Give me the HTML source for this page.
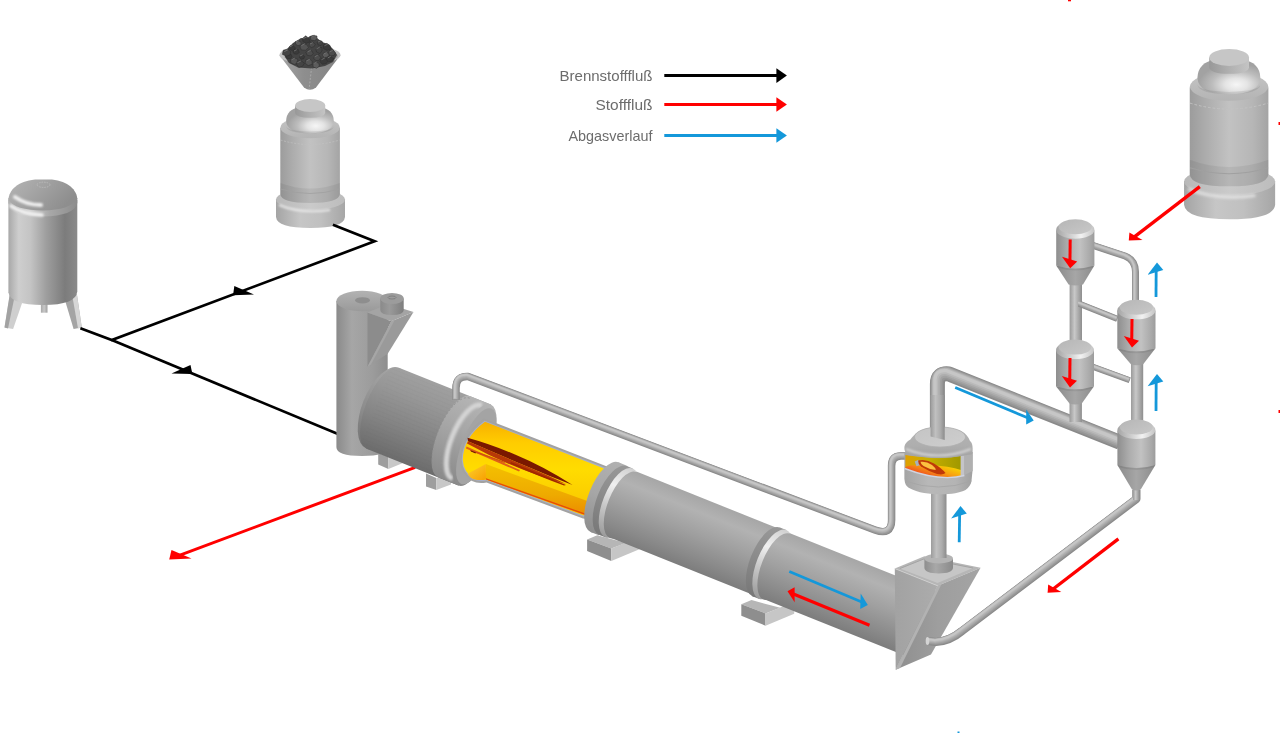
<!DOCTYPE html>
<html><head><meta charset="utf-8"><style>
html,body{margin:0;padding:0;background:#fff;width:1280px;height:733px;overflow:hidden}
svg{display:block}
</style></head><body>
<svg width="1280" height="733" viewBox="0 0 1280 733">
<defs>
<filter id="blur1" x="-20%" y="-50%" width="140%" height="200%"><feGaussianBlur stdDeviation="1.3"/></filter>
<filter id="blur2" x="-20%" y="-50%" width="140%" height="200%"><feGaussianBlur stdDeviation="2.2"/></filter>
<linearGradient id="gV" x1="0" y1="0" x2="1" y2="0">
 <stop offset="0" stop-color="#9c9c9c"/><stop offset="0.25" stop-color="#c4c4c4"/><stop offset="0.55" stop-color="#b2b2b2"/><stop offset="0.85" stop-color="#a0a0a0"/><stop offset="1" stop-color="#aaaaaa"/>
</linearGradient>
<linearGradient id="gTank" x1="0" y1="0" x2="1" y2="0">
 <stop offset="0" stop-color="#a8a8a8"/><stop offset="0.15" stop-color="#cecece"/><stop offset="0.32" stop-color="#c4c4c4"/><stop offset="0.55" stop-color="#9e9e9e"/><stop offset="0.82" stop-color="#7c7c7c"/><stop offset="1" stop-color="#8a8a8a"/>
</linearGradient>
<linearGradient id="gBase" x1="0" y1="0" x2="1" y2="0">
 <stop offset="0" stop-color="#a4a4a4"/><stop offset="0.35" stop-color="#c6c6c6"/><stop offset="0.65" stop-color="#c0c0c0"/><stop offset="1" stop-color="#a6a6a6"/>
</linearGradient>
<radialGradient id="gDome" cx="0.55" cy="0.7" r="0.6">
 <stop offset="0" stop-color="#f4f4f4"/><stop offset="0.5" stop-color="#c8c8c8"/><stop offset="1" stop-color="#a0a0a0"/>
</radialGradient>
<linearGradient id="gTube" x1="0" y1="0" x2="0" y2="1">
 <stop offset="0" stop-color="#a6a6a6"/><stop offset="0.2" stop-color="#b4b4b4"/><stop offset="0.5" stop-color="#a2a2a2"/><stop offset="0.85" stop-color="#888888"/><stop offset="1" stop-color="#7c7c7c"/>
</linearGradient>
<linearGradient id="gHood" x1="0" y1="0" x2="0" y2="1">
 <stop offset="0" stop-color="#a0a0a0"/><stop offset="0.3" stop-color="#989898"/><stop offset="0.7" stop-color="#858585"/><stop offset="1" stop-color="#747474"/>
</linearGradient>
<linearGradient id="gRing" x1="0" y1="0" x2="1" y2="0">
 <stop offset="0" stop-color="#8a8a8a"/><stop offset="0.6" stop-color="#9a9a9a"/><stop offset="0.8" stop-color="#d8d8d8"/><stop offset="1" stop-color="#a8a8a8"/>
</linearGradient>
<linearGradient id="gPipe" x1="0" y1="0" x2="0" y2="1">
 <stop offset="0" stop-color="#a0a0a0"/><stop offset="0.4" stop-color="#c6c6c6"/><stop offset="1" stop-color="#8c8c8c"/>
</linearGradient>
<linearGradient id="gPipeV" x1="0" y1="0" x2="1" y2="0">
 <stop offset="0" stop-color="#9a9a9a"/><stop offset="0.4" stop-color="#c8c8c8"/><stop offset="1" stop-color="#8e8e8e"/>
</linearGradient>
<linearGradient id="gYel" x1="0" y1="0" x2="0" y2="1">
 <stop offset="0" stop-color="#f8b000"/><stop offset="0.22" stop-color="#ffcc00"/><stop offset="0.5" stop-color="#ffdc00"/><stop offset="1" stop-color="#f8c400"/>
</linearGradient>
<linearGradient id="gTankRim" x1="0" y1="0" x2="1" y2="0">
 <stop offset="0" stop-color="#b0b0b0"/><stop offset="0.3" stop-color="#d2d2d2"/><stop offset="0.6" stop-color="#a8a8a8"/><stop offset="1" stop-color="#8c8c8c"/></linearGradient>
<linearGradient id="gTankDome" x1="0" y1="0" x2="1" y2="0.4">
 <stop offset="0" stop-color="#b4b4b4"/><stop offset="0.35" stop-color="#a8a8a8"/><stop offset="0.7" stop-color="#9a9a9a"/><stop offset="1" stop-color="#8e8e8e"/></linearGradient>
<linearGradient id="gDrain" x1="0" y1="0" x2="1" y2="0">
 <stop offset="0" stop-color="#a8a8a8"/><stop offset="0.5" stop-color="#c8c8c8"/><stop offset="1" stop-color="#a0a0a0"/></linearGradient>
<linearGradient id="gSiloBody" x1="0" y1="0" x2="1" y2="0">
 <stop offset="0" stop-color="#9c9c9c"/><stop offset="0.2" stop-color="#acacac"/><stop offset="0.5" stop-color="#c2c2c2"/><stop offset="0.8" stop-color="#b6b6b6"/><stop offset="1" stop-color="#a4a4a4"/></linearGradient>
<linearGradient id="gSiloTop" x1="0" y1="0" x2="0" y2="1">
 <stop offset="0" stop-color="#c4c4c4"/><stop offset="1" stop-color="#b4b4b4"/></linearGradient>
<radialGradient id="gShoulder2" cx="0.62" cy="0.72" r="0.6" fx="0.62" fy="0.72">
 <stop offset="0" stop-color="#f6f6f6"/><stop offset="0.3" stop-color="#e4e4e4"/><stop offset="0.65" stop-color="#bcbcbc"/><stop offset="1" stop-color="#a2a2a2"/></radialGradient>
<linearGradient id="gCapSide" x1="0" y1="0" x2="1" y2="0">
 <stop offset="0" stop-color="#989898"/><stop offset="0.5" stop-color="#b0b0b0"/><stop offset="1" stop-color="#c4c4c4"/></linearGradient>
<linearGradient id="gBaseTop" x1="0" y1="0" x2="1" y2="0">
 <stop offset="0" stop-color="#b8b8b8"/><stop offset="0.5" stop-color="#cacaca"/><stop offset="1" stop-color="#bcbcbc"/></linearGradient>
<linearGradient id="gFunnel" x1="0" y1="0" x2="1" y2="0">
 <stop offset="0" stop-color="#a4a4a4"/><stop offset="0.4" stop-color="#8e8e8e"/><stop offset="1" stop-color="#848484"/></linearGradient>
<linearGradient id="gBurnTop" x1="0" y1="0" x2="0" y2="1">
 <stop offset="0" stop-color="#b2b2b2"/><stop offset="1" stop-color="#9a9a9a"/></linearGradient>
<linearGradient id="gSmallCyl" x1="0" y1="0" x2="1" y2="0">
 <stop offset="0" stop-color="#8a8a8a"/><stop offset="0.4" stop-color="#9a9a9a"/><stop offset="1" stop-color="#7e7e7e"/></linearGradient>
<linearGradient id="gHoodU" gradientUnits="userSpaceOnUse" x1="0" y1="-43.6" x2="0" y2="43.6">
 <stop offset="0" stop-color="#a0a0a0"/><stop offset="0.25" stop-color="#979797"/><stop offset="0.6" stop-color="#858585"/><stop offset="1" stop-color="#6c6c6c"/></linearGradient>
<linearGradient id="gHoodL" gradientUnits="userSpaceOnUse" x1="-25" y1="0" x2="0" y2="0">
 <stop offset="0" stop-color="#b0b0b0"/><stop offset="1" stop-color="#909090"/></linearGradient>
<linearGradient id="gShoulder" gradientUnits="userSpaceOnUse" x1="0" y1="-43.6" x2="0" y2="43.6">
 <stop offset="0" stop-color="#b4b4b4"/><stop offset="0.4" stop-color="#a6a6a6"/><stop offset="1" stop-color="#8a8a8a"/></linearGradient>
<linearGradient id="gTubeU" gradientUnits="userSpaceOnUse" x1="0" y1="-38" x2="0" y2="38">
 <stop offset="0" stop-color="#a4a4a4"/><stop offset="0.22" stop-color="#b2b2b2"/><stop offset="0.5" stop-color="#a0a0a0"/><stop offset="0.8" stop-color="#8a8a8a"/><stop offset="1" stop-color="#7a7a7a"/></linearGradient>
<linearGradient id="gBed" x1="0" y1="0" x2="0" y2="1">
 <stop offset="0" stop-color="#f4c000"/><stop offset="0.6" stop-color="#eeaa00"/><stop offset="1" stop-color="#ec8a00"/></linearGradient>
<linearGradient id="gBurn" x1="0" y1="0" x2="1" y2="0">
 <stop offset="0" stop-color="#8a8a8a"/><stop offset="0.3" stop-color="#a6a6a6"/><stop offset="0.7" stop-color="#9c9c9c"/><stop offset="1" stop-color="#8e8e8e"/></linearGradient><linearGradient id="gRingDark" gradientUnits="userSpaceOnUse" x1="0" y1="-37" x2="0" y2="37">
 <stop offset="0" stop-color="#989898"/><stop offset="0.4" stop-color="#8e8e8e"/><stop offset="1" stop-color="#787878"/></linearGradient>
<linearGradient id="gCollar" gradientUnits="userSpaceOnUse" x1="0" y1="-37" x2="0" y2="37">
 <stop offset="0" stop-color="#b0b0b0"/><stop offset="0.5" stop-color="#a6a6a6"/><stop offset="1" stop-color="#8e8e8e"/></linearGradient>
<linearGradient id="gCres" gradientUnits="userSpaceOnUse" x1="0" y1="-37" x2="0" y2="37">
 <stop offset="0" stop-color="#d0d0d0"/><stop offset="0.3" stop-color="#f0f0f0"/><stop offset="0.6" stop-color="#c8c8c8"/><stop offset="1" stop-color="#9a9a9a"/></linearGradient>
<linearGradient id="gBedEnd" x1="0" y1="0" x2="1" y2="1">
 <stop offset="0" stop-color="#fcd030"/><stop offset="1" stop-color="#f8a000"/></linearGradient>
<linearGradient id="gBoxF" x1="0" y1="0" x2="1" y2="0">
 <stop offset="0" stop-color="#a2a2a2"/><stop offset="1" stop-color="#acacac"/></linearGradient>
<linearGradient id="gBoxR" x1="0" y1="0" x2="1" y2="0">
 <stop offset="0" stop-color="#8e8e8e"/><stop offset="0.5" stop-color="#9e9e9e"/><stop offset="1" stop-color="#a4a4a4"/></linearGradient>
<linearGradient id="gCollarV" x1="0" y1="0" x2="1" y2="0">
 <stop offset="0" stop-color="#8e8e8e"/><stop offset="0.4" stop-color="#a8a8a8"/><stop offset="1" stop-color="#8a8a8a"/></linearGradient>
<linearGradient id="gChLow" x1="0" y1="0" x2="1" y2="0">
 <stop offset="0" stop-color="#a4a4a4"/><stop offset="0.35" stop-color="#b8b8b8"/><stop offset="0.75" stop-color="#b4b4b4"/><stop offset="1" stop-color="#a0a0a0"/></linearGradient>
<linearGradient id="gChTop" x1="0" y1="0" x2="0" y2="1">
 <stop offset="0" stop-color="#b4b4b4"/><stop offset="0.6" stop-color="#aeaeae"/><stop offset="1" stop-color="#a2a2a2"/></linearGradient>
<linearGradient id="gChTopFace" x1="0" y1="0" x2="1" y2="1">
 <stop offset="0" stop-color="#c4c4c4"/><stop offset="1" stop-color="#cecece"/></linearGradient>
<linearGradient id="gWinBack" x1="0" y1="0" x2="1" y2="0">
 <stop offset="0" stop-color="#e0a000"/><stop offset="0.4" stop-color="#c8b000"/><stop offset="1" stop-color="#a09800"/></linearGradient>
<linearGradient id="gWinFloor" x1="0" y1="1" x2="1" y2="0.3">
 <stop offset="0" stop-color="#f02820"/><stop offset="0.3" stop-color="#f05020"/><stop offset="0.65" stop-color="#f8a010"/><stop offset="1" stop-color="#f8d800"/></linearGradient>
<linearGradient id="gPipeV2" x1="0" y1="0" x2="1" y2="0">
 <stop offset="0" stop-color="#9c9c9c"/><stop offset="0.35" stop-color="#c0c0c0"/><stop offset="0.7" stop-color="#acacac"/><stop offset="1" stop-color="#8c8c8c"/></linearGradient>
<linearGradient id="gCyc" x1="0" y1="0" x2="1" y2="0">
 <stop offset="0" stop-color="#8e8e8e"/><stop offset="0.3" stop-color="#acacac"/><stop offset="0.62" stop-color="#c2c2c2"/><stop offset="0.9" stop-color="#a8a8a8"/><stop offset="1" stop-color="#9c9c9c"/></linearGradient>
<linearGradient id="gCham" x1="0" y1="0" x2="1" y2="0">
 <stop offset="0" stop-color="#a4a4a4"/><stop offset="0.35" stop-color="#cccccc"/><stop offset="0.65" stop-color="#f2f2f2"/><stop offset="1" stop-color="#c4c4c4"/></linearGradient>
<linearGradient id="gCycSh" x1="0" y1="0" x2="1" y2="0">
 <stop offset="0" stop-color="#a8a8a8"/><stop offset="0.4" stop-color="#c8c8c8"/><stop offset="1" stop-color="#a4a4a4"/></linearGradient>
<linearGradient id="gCycTop" x1="0" y1="0" x2="1" y2="1">
 <stop offset="0" stop-color="#b6b6b6"/><stop offset="1" stop-color="#c8c8c8"/></linearGradient>
<linearGradient id="gCone" x1="0" y1="0" x2="1" y2="0">
 <stop offset="0" stop-color="#8a8a8a"/><stop offset="0.5" stop-color="#a6a6a6"/><stop offset="1" stop-color="#8c8c8c"/></linearGradient></defs>
<text x="652.5" y="81" text-anchor="end" font-family="Liberation Sans, sans-serif" font-size="15" fill="#6b6b6b" opacity="0.99" textLength="93" lengthAdjust="spacingAndGlyphs">Brennstofffluß</text>
<line x1="664.3" y1="75.6" x2="778" y2="75.6" stroke="#000" stroke-width="3"/>
<polygon points="776.4,68.3 786.9,75.6 776.4,82.89999999999999" fill="#000"/>
<text x="652.5" y="110" text-anchor="end" font-family="Liberation Sans, sans-serif" font-size="15" fill="#6b6b6b" opacity="0.99" textLength="57" lengthAdjust="spacingAndGlyphs">Stofffluß</text>
<line x1="664.3" y1="104.5" x2="778" y2="104.5" stroke="#ff0000" stroke-width="3"/>
<polygon points="776.4,97.2 786.9,104.5 776.4,111.8" fill="#ff0000"/>
<text x="652.5" y="140.5" text-anchor="end" font-family="Liberation Sans, sans-serif" font-size="15" fill="#6b6b6b" opacity="0.99" textLength="84" lengthAdjust="spacingAndGlyphs">Abgasverlauf</text>
<line x1="664.3" y1="135.5" x2="778" y2="135.5" stroke="#1498da" stroke-width="3"/>
<polygon points="776.4,128.2 786.9,135.5 776.4,142.8" fill="#1498da"/>
<polygon points="9.8,293.9 22.1,302.9 13.1,329.1 4.5,327.5" fill="#cfcfcf"/>
<polygon points="9.8,293.9 14.5,297 8,328.6 4.5,327.5" fill="#a2a2a2"/>
<polygon points="65.5,302.1 76.9,294.3 81.8,327.5 73.6,329.1" fill="#a4a4a4"/>
<polygon points="72.5,297 76.9,294.3 81.8,327.5 78,328.6" fill="#d6d6d6"/>
<rect x="40.9" y="303" width="6.6" height="9.7" fill="url(#gDrain)"/>
<path d="M8.4,200 L8.4,292.3 Q10,305 43,305 Q76,305 77.3,291.5 L77.3,200 Z" fill="url(#gTank)"/>
<path d="M8.4,198 L8.4,203 Q12,216 43,216.5 Q74,216 77.3,203 L77.3,198 Z" fill="url(#gTankRim)"/>
<path d="M11,206 Q22,214 42,215" fill="none" stroke="#f0f0f0" stroke-width="3.5" stroke-linecap="round" filter="url(#blur1)"/>
<path d="M8.4,200 C8.6,190 18,181 35,179.4 L52,179.4 C68,181 77,190 77.3,199 Q70,210 43,210.5 Q15,210 8.4,200 Z" fill="url(#gTankDome)"/>
<path d="M15,197 Q26,205 41,205" fill="none" stroke="#eeeeee" stroke-width="4" stroke-linecap="round" filter="url(#blur1)"/>
<ellipse cx="43.5" cy="184.8" rx="6.5" ry="2.6" fill="none" stroke="#bdbdbd" stroke-width="0.8" stroke-dasharray="1.5,1"/>
<path d="M279.3,55 L304,87.5 Q310,92 316,87.5 L340.5,55 Z" fill="url(#gFunnel)"/>
<path d="M312,64 L309,90" stroke="#b4b4b4" stroke-width="0.7" stroke-dasharray="2,1.5"/>
<ellipse cx="310" cy="55" rx="30.6" ry="9" fill="#c4c4c4"/>
<ellipse cx="311" cy="56" rx="27" ry="7.5" fill="#a8a8a8"/>
<path d="M285,57 L287,49 L293,43 L298,40 L301,38 L306,39 L310,36 L314,35 L317,38 L322,42 L328,44 L333,49 L337,55 L333,62 L325,66 L312,68.5 L298,67.5 L289,63 Z" fill="#444444"/>
<polygon points="294.1,50.5 290.8,50.2 288.6,48.3 290.1,45.8 293.2,45.8 295.4,47.7" fill="#3a3a3a" stroke="#2c2c2c" stroke-width="0.5"/>
<path d="M289.8,46.9 L292.7,45.4" stroke="#727272" stroke-width="0.9"/>
<polygon points="295.6,44.2 295.3,41.6 298.0,40.8 300.7,41.7 301.1,44.6 298.0,45.7" fill="#5c5c5c" stroke="#2c2c2c" stroke-width="0.5"/>
<path d="M296.0,42.0 L298.7,40.7" stroke="#727272" stroke-width="0.9"/>
<polygon points="302.4,38.4 305.8,35.8 308.9,38.4 310.2,41.9 306.2,43.3 302.9,41.6" fill="#3a3a3a" stroke="#2c2c2c" stroke-width="0.5"/>
<path d="M303.3,38.6 L306.9,36.8" stroke="#727272" stroke-width="0.9"/>
<polygon points="310.3,36.8 313.5,35.4 317.0,36.0 317.0,39.0 314.5,40.6 310.9,40.1" fill="#5c5c5c" stroke="#2c2c2c" stroke-width="0.5"/>
<path d="M311.6,36.8 L314.8,35.2" stroke="#727272" stroke-width="0.9"/>
<polygon points="320.9,45.7 317.9,44.8 317.3,42.4 319.1,40.4 322.1,41.2 322.7,43.6" fill="#444444" stroke="#2c2c2c" stroke-width="0.5"/>
<path d="M318.0,42.0 L320.7,40.7" stroke="#727272" stroke-width="0.9"/>
<polygon points="327.1,50.4 323.7,48.8 323.1,45.2 326.8,43.4 330.0,45.4 331.0,48.8" fill="#3a3a3a" stroke="#2c2c2c" stroke-width="0.5"/>
<path d="M324.5,45.7 L327.8,44.1" stroke="#727272" stroke-width="0.9"/>
<polygon points="333.7,55.5 329.9,56.1 328.5,53.0 329.8,49.9 333.5,50.7 335.7,53.0" fill="#4c4c4c" stroke="#2c2c2c" stroke-width="0.5"/>
<path d="M329.6,51.8 L332.8,50.3" stroke="#727272" stroke-width="0.9"/>
<polygon points="287.0,58.3 285.2,55.7 287.8,53.8 290.7,54.0 292.1,56.3 290.5,58.8" fill="#3a3a3a" stroke="#2c2c2c" stroke-width="0.5"/>
<path d="M286.8,54.9 L289.7,53.4" stroke="#727272" stroke-width="0.9"/>
<polygon points="295.0,49.4 298.4,49.7 299.3,52.6 296.8,54.3 294.0,53.8 292.8,51.4" fill="#3a3a3a" stroke="#2c2c2c" stroke-width="0.5"/>
<path d="M294.0,51.0 L296.7,49.7" stroke="#727272" stroke-width="0.9"/>
<polygon points="301.3,49.9 299.9,46.5 302.6,44.1 306.4,44.4 308.5,47.5 305.5,50.2" fill="#545454" stroke="#2c2c2c" stroke-width="0.5"/>
<path d="M301.3,45.6 L304.9,43.8" stroke="#727272" stroke-width="0.9"/>
<polygon points="309.0,45.8 309.4,43.0 312.7,42.1 315.3,44.1 314.1,46.6 311.4,47.5" fill="#4c4c4c" stroke="#2c2c2c" stroke-width="0.5"/>
<path d="M310.0,44.0 L312.7,42.7" stroke="#727272" stroke-width="0.9"/>
<polygon points="316.5,52.0 315.9,49.2 318.2,47.2 322.0,47.6 322.0,50.8 320.0,53.6" fill="#444444" stroke="#2c2c2c" stroke-width="0.5"/>
<path d="M316.5,48.8 L319.8,47.1" stroke="#727272" stroke-width="0.9"/>
<polygon points="329.2,55.1 327.5,57.3 324.2,57.5 322.1,54.9 324.3,52.4 327.7,52.6" fill="#5c5c5c" stroke="#2c2c2c" stroke-width="0.5"/>
<path d="M323.9,53.9 L326.7,52.5" stroke="#727272" stroke-width="0.9"/>
<polygon points="293.8,57.8 297.6,59.0 298.0,62.7 294.3,64.5 290.8,62.8 290.7,59.6" fill="#545454" stroke="#2c2c2c" stroke-width="0.5"/>
<path d="M291.5,59.8 L294.8,58.1" stroke="#727272" stroke-width="0.9"/>
<polygon points="300.3,55.4 302.8,54.9 304.7,56.5 303.8,58.7 301.1,59.3 299.5,57.4" fill="#3a3a3a" stroke="#2c2c2c" stroke-width="0.5"/>
<path d="M300.0,56.0 L302.7,54.7" stroke="#727272" stroke-width="0.9"/>
<polygon points="305.8,52.2 308.9,49.9 312.1,51.1 313.2,53.6 311.0,55.9 307.3,55.4" fill="#4c4c4c" stroke="#2c2c2c" stroke-width="0.5"/>
<path d="M307.6,51.8 L310.8,50.2" stroke="#727272" stroke-width="0.9"/>
<polygon points="313.8,58.4 314.6,55.6 318.6,54.5 320.7,57.5 319.2,60.3 315.9,60.6" fill="#4c4c4c" stroke="#2c2c2c" stroke-width="0.5"/>
<path d="M314.6,56.8 L317.8,55.2" stroke="#727272" stroke-width="0.9"/>
<polygon points="319.8,61.5 321.6,58.3 325.3,58.3 328.5,60.5 326.3,63.5 322.4,64.3" fill="#3a3a3a" stroke="#2c2c2c" stroke-width="0.5"/>
<path d="M321.5,59.7 L324.8,58.0" stroke="#727272" stroke-width="0.9"/>
<polygon points="298.8,67.4 296.7,64.6 297.0,61.2 301.2,60.8 304.4,63.2 302.5,66.3" fill="#444444" stroke="#2c2c2c" stroke-width="0.5"/>
<path d="M297.4,62.7 L300.9,61.0" stroke="#727272" stroke-width="0.9"/>
<polygon points="309.6,59.1 312.1,61.1 312.1,64.3 308.2,65.6 305.1,63.2 305.9,59.8" fill="#545454" stroke="#2c2c2c" stroke-width="0.5"/>
<path d="M306.6,60.8 L309.8,59.2" stroke="#727272" stroke-width="0.9"/>
<polygon points="316.6,68.3 313.1,67.0 313.0,64.0 315.5,62.3 318.8,63.1 319.3,66.1" fill="#5c5c5c" stroke="#2c2c2c" stroke-width="0.5"/>
<path d="M313.5,63.7 L316.8,62.0" stroke="#727272" stroke-width="0.9"/>
<polygon points="282.4,54.4 283.2,50.2 287.9,48.9 290.8,51.9 289.8,55.1 286.3,56.1" fill="#444444" stroke="#2c2c2c" stroke-width="0.5"/>
<path d="M284.3,51.6 L287.9,49.8" stroke="#727272" stroke-width="0.9"/>
<polygon points="326.0,59.4 327.9,56.6 331.1,56.9 333.9,58.6 331.9,61.2 328.6,61.8" fill="#3a3a3a" stroke="#2c2c2c" stroke-width="0.5"/>
<path d="M327.8,57.9 L330.7,56.4" stroke="#727272" stroke-width="0.9"/>
<path d="M276,199 L276,217 Q277,228 310.5,228 Q344,228 345,217 L345,199 Z" fill="url(#gBase)"/>
<ellipse cx="310.5" cy="199.5" rx="34.5" ry="10.5" fill="url(#gBaseTop)"/>
<path d="M279,205 Q300,214 330,210" fill="none" stroke="#e8e8e8" stroke-width="2" filter="url(#blur1)"/>
<path d="M280.3,128 L280.3,194 Q281,203 310,203 Q339,203 339.9,194 L339.9,128 Z" fill="url(#gSiloBody)"/>
<path d="M280.3,183 L280.3,194 Q281,203 310,203 Q339,203 339.9,194 L339.9,183 Q310,194 280.3,183 Z" fill="#000" fill-opacity="0.06"/>
<path d="M280.5,140 Q310,149 339.7,140" fill="none" stroke="#c2c2c2" stroke-width="0.7" stroke-dasharray="2,1.5"/>
<path d="M280.5,189 Q310,198 339.7,189" fill="none" stroke="#a0a0a0" stroke-width="0.8"/>
<ellipse cx="310.1" cy="127.5" rx="29.7" ry="10.8" fill="url(#gSiloTop)"/>
<path d="M286.1,121 Q286.5,109 300,107 L320,107 Q333.5,109 333.8,121 Q333,133.3 310,133.3 Q287,133.3 286.1,121 Z" fill="url(#gShoulder2)"/>
<path d="M286.1,126 Q287,133.3 310,133.3 Q333,133.3 333.8,126 Q333,131 310,131.5 Q287,131 286.1,126 Z" fill="#000" fill-opacity="0.08"/>
<path d="M295.1,105.5 L295.1,113 Q296,117.8 310.2,117.8 Q324.3,117.8 325.2,113 L325.2,105.5 Z" fill="url(#gCapSide)"/>
<ellipse cx="310.15" cy="105.5" rx="15.05" ry="6.4" fill="#c6c6c6"/>
<g transform="translate(819.74,-81.70) scale(1.32)">
<path d="M276,199 L276,217 Q277,228 310.5,228 Q344,228 345,217 L345,199 Z" fill="url(#gBase)"/>
<ellipse cx="310.5" cy="199.5" rx="34.5" ry="10.5" fill="url(#gBaseTop)"/>
<path d="M279,205 Q300,214 330,210" fill="none" stroke="#e8e8e8" stroke-width="2" filter="url(#blur1)"/>
<path d="M280.3,128 L280.3,194 Q281,203 310,203 Q339,203 339.9,194 L339.9,128 Z" fill="url(#gSiloBody)"/>
<path d="M280.3,183 L280.3,194 Q281,203 310,203 Q339,203 339.9,194 L339.9,183 Q310,194 280.3,183 Z" fill="#000" fill-opacity="0.06"/>
<path d="M280.5,140 Q310,149 339.7,140" fill="none" stroke="#c2c2c2" stroke-width="0.7" stroke-dasharray="2,1.5"/>
<path d="M280.5,189 Q310,198 339.7,189" fill="none" stroke="#a0a0a0" stroke-width="0.8"/>
<ellipse cx="310.1" cy="127.5" rx="29.7" ry="10.8" fill="url(#gSiloTop)"/>
<path d="M286.1,121 Q286.5,109 300,107 L320,107 Q333.5,109 333.8,121 Q333,133.3 310,133.3 Q287,133.3 286.1,121 Z" fill="url(#gShoulder2)"/>
<path d="M286.1,126 Q287,133.3 310,133.3 Q333,133.3 333.8,126 Q333,131 310,131.5 Q287,131 286.1,126 Z" fill="#000" fill-opacity="0.08"/>
<path d="M295.1,105.5 L295.1,113 Q296,117.8 310.2,117.8 Q324.3,117.8 325.2,113 L325.2,105.5 Z" fill="url(#gCapSide)"/>
<ellipse cx="310.15" cy="105.5" rx="15.05" ry="6.4" fill="#c6c6c6"/>
</g>
<polyline points="332.9,224.7 374.6,241.3 111.8,340.1 80.4,328.2" fill="none" stroke="#000" stroke-width="2.7" stroke-linejoin="miter"/>
<line x1="111.8" y1="340.1" x2="338" y2="434" stroke="#000" stroke-width="2.7"/>
<polygon points="234.3,286 254,294.4 233.1,295.2" fill="#000"/>
<polygon points="171.5,373.6 190.5,365 192.4,374" fill="#000"/>
<path d="M336.4,301 L336.4,447 Q336.4,456 362,456 Q387.7,456 387.7,447 L387.7,301 Z" fill="url(#gBurn)"/>
<ellipse cx="362" cy="301" rx="25.6" ry="10.3" fill="url(#gBurnTop)"/>
<ellipse cx="362.5" cy="300.3" rx="7.4" ry="3.1" fill="#8e8e8e"/>
<polygon points="367.5,312.6 391.4,321.2 367.5,366.7" fill="#8c8c8c"/>
<polygon points="391.4,321.2 413.5,312 387.7,353.8 367.5,366.7" fill="#9a9a9a"/>
<polygon points="391.4,321.2 395,319.5 371,364.5 367.5,366.7" fill="#a6a6a6"/>
<polygon points="367.5,312.6 388,304 413.5,312 391.4,321.2" fill="#a4a4a4"/>
<path d="M380.3,298.5 L380.3,310 Q380.3,315 392,315 Q403.7,315 403.7,310 L403.7,298.5 Z" fill="url(#gSmallCyl)"/>
<ellipse cx="392" cy="298.5" rx="11.7" ry="5.5" fill="#9c9c9c"/>
<ellipse cx="392" cy="297.5" rx="4" ry="1.5" fill="none" stroke="#7a7a7a" stroke-width="0.8"/>
<polygon points="378.2,453.1 388.4,456.8 388.4,469 378.2,464.5" fill="#9e9e9e"/>
<polygon points="388.4,456.8 403,456 403,463 388.4,469" fill="#c8c8c8"/>
<polygon points="426,473.6 436.3,478 436.3,489.9 426,486.6" fill="#9e9e9e"/>
<polygon points="436.3,478 451,476 451,484.6 436.3,489.9" fill="#c8c8c8"/>
<polygon points="587.1,539.4 597.3,535.3 626.0,543.0 611.3,548.6" fill="#b6b6b6"/>
<polygon points="587.1,539.4 611.3,548.6 611.3,560.9 587.1,551.0" fill="#8e8e8e"/>
<polygon points="611.3,548.6 640.0,537.0 640.0,549.0 611.3,560.9" fill="#c6c6c6"/>
<polygon points="741.3,604.2 751.5,600.1 780.2,607.8 765.5,613.4" fill="#b6b6b6"/>
<polygon points="741.3,604.2 765.5,613.4 765.5,625.7 741.3,615.8" fill="#8e8e8e"/>
<polygon points="765.5,613.4 794.2,601.8 794.2,613.8 765.5,625.7" fill="#c6c6c6"/>
<line x1="415.2" y1="467.3" x2="175.3" y2="556.9" stroke="#ff0000" stroke-width="3"/>
<polygon points="169.2,559.5 171.5,550.1 191.5,558.5" fill="#ff0000"/>
<g transform="translate(385.5,409.3) rotate(21.84)">
<ellipse cx="-3" cy="0" rx="20.5" ry="43.6" fill="url(#gHoodU)"/>
<rect x="-3" y="-43.6" width="99" height="87.2" fill="url(#gHoodU)"/>
<path d="M-3,-43.6 A20.5,43.6 0 0 0 -3,43.6 A17,43.6 0 0 1 -3,-43.6 Z" fill="#fff" fill-opacity="0.06"/>
<line x1="-10" y1="-40" x2="74" y2="-40" stroke="#000" stroke-opacity="0.012" stroke-width="1.2"/>
<line x1="-10" y1="-36" x2="74" y2="-36" stroke="#000" stroke-opacity="0.012" stroke-width="1.2"/>
<line x1="-10" y1="-32" x2="74" y2="-32" stroke="#000" stroke-opacity="0.012" stroke-width="1.2"/>
<line x1="-10" y1="-28" x2="74" y2="-28" stroke="#000" stroke-opacity="0.012" stroke-width="1.2"/>
<line x1="-10" y1="-24" x2="74" y2="-24" stroke="#000" stroke-opacity="0.012" stroke-width="1.2"/>
<line x1="-10" y1="-20" x2="74" y2="-20" stroke="#000" stroke-opacity="0.012" stroke-width="1.2"/>
<line x1="-10" y1="-16" x2="74" y2="-16" stroke="#000" stroke-opacity="0.012" stroke-width="1.2"/>
<line x1="-10" y1="-12" x2="74" y2="-12" stroke="#000" stroke-opacity="0.012" stroke-width="1.2"/>
<line x1="-10" y1="-8" x2="74" y2="-8" stroke="#000" stroke-opacity="0.012" stroke-width="1.2"/>
<line x1="-10" y1="-4" x2="74" y2="-4" stroke="#000" stroke-opacity="0.012" stroke-width="1.2"/>
<line x1="-10" y1="0" x2="74" y2="0" stroke="#000" stroke-opacity="0.012" stroke-width="1.2"/>
<line x1="-10" y1="4" x2="74" y2="4" stroke="#000" stroke-opacity="0.012" stroke-width="1.2"/>
<line x1="-10" y1="8" x2="74" y2="8" stroke="#000" stroke-opacity="0.012" stroke-width="1.2"/>
<line x1="-10" y1="12" x2="74" y2="12" stroke="#000" stroke-opacity="0.012" stroke-width="1.2"/>
<line x1="-10" y1="16" x2="74" y2="16" stroke="#000" stroke-opacity="0.012" stroke-width="1.2"/>
<line x1="-10" y1="20" x2="74" y2="20" stroke="#000" stroke-opacity="0.012" stroke-width="1.2"/>
<line x1="-10" y1="24" x2="74" y2="24" stroke="#000" stroke-opacity="0.012" stroke-width="1.2"/>
<line x1="-10" y1="28" x2="74" y2="28" stroke="#000" stroke-opacity="0.012" stroke-width="1.2"/>
<line x1="-10" y1="32" x2="74" y2="32" stroke="#000" stroke-opacity="0.012" stroke-width="1.2"/>
<line x1="-10" y1="36" x2="74" y2="36" stroke="#000" stroke-opacity="0.012" stroke-width="1.2"/>
<line x1="-10" y1="40" x2="74" y2="40" stroke="#000" stroke-opacity="0.012" stroke-width="1.2"/>
<path d="M74,-43.6 A17,43.6 0 0 0 74,43.6 L96,43.6 L96,-43.6 Z" fill="url(#gShoulder)"/>
<path d="M74,-41.6 A17,41.6 0 0 0 74,41.6" fill="none" stroke="#8c8c8c" stroke-width="0.7" stroke-dasharray="2,2"/>
<path d="M88,-39.6 A16,39.6 0 0 0 88,39.6" fill="none" stroke="#d4d4d4" stroke-width="5" filter="url(#blur1)"/>
<ellipse cx="96" cy="0" rx="16" ry="43.6" fill="url(#gShoulder)"/>
<ellipse cx="98" cy="0.5" rx="14.5" ry="40.6" fill="#a4a4a4"/>
</g>
<path d="M483.6,418.2 L607,466.5 L596,520 L583,518.5 L486.5,482.5 Q478,484 472,481 Q461,474 459.8,460 Q460,436 483.6,418.2 Z" fill="#a2a2a2"/>
<path d="M484.6,420.8 L606,468 L596,519 L583,516.5 L486.5,480.5 Q478,482 472.8,479 Q462.5,472.5 461.8,460 Q462,437.5 484.6,420.8 Z" fill="#a8b0c8"/>
<path d="M485,421.8 L604,468.5 L592,516 L583,515.3 L486,479.4 Q478,481 473.5,478 Q463.5,472 462.8,460 Q463,438 485,421.8 Z" fill="url(#gYel)"/>
<path d="M485.8,464.1 L590,502 L588,515.8 L486,479.4 Z" fill="url(#gBed)"/>
<path d="M486,478.2 L588,514.5 L588,516 L486,479.6 Z" fill="#e84a08"/>
<path d="M485.8,464.1 L467.6,473.7 Q470,478.5 476,479.8 Q482,480.5 486,479.4 Z" fill="url(#gBedEnd)"/>
<path d="M467.5,437.8 Q490,444 515,454.5 Q545,467 572.6,485.1 Q550,476.5 530,467.8 Q500,455 468,441.2 Z" fill="#7a1800"/>
<path d="M468,441.2 Q500,455 530,467.8 Q548,475.5 566,484 Q545,478.5 524,470 Q495,459 467,443.5 Z" fill="#b83808"/>
<path d="M466.5,446.5 Q495,459 520,470 L519,471.5 Q494,461 466,448.5 Z" fill="#e06018"/>
<path d="M470,449.5 Q490,456 505,462 L504.5,463 Q489,457 470,451 Z" fill="#d05010"/>
<path d="M511,462 Q540,474 566,485 L564,485.5 Q538,476 510,463.5 Z" fill="#a02800"/>
<path d="M471,450.5 L476,452.5 L475.5,453.5 L471,451.5 Z" fill="#701800"/>
<g transform="translate(385.5,409.3) rotate(21.84)">
<ellipse cx="236" cy="0" rx="16" ry="37.5" fill="url(#gCollar)"/>
<rect x="236" y="-37.5" width="9" height="75.0" fill="url(#gCollar)"/>
<ellipse cx="245" cy="0" rx="16" ry="37.0" fill="url(#gRingDark)"/>
<rect x="245" y="-37.0" width="6.5" height="74.0" fill="url(#gRingDark)"/>
<ellipse cx="251.5" cy="0" rx="16" ry="37.0" fill="url(#gCres)"/>
<ellipse cx="256" cy="0.5" rx="15" ry="35.5" fill="url(#gTubeU)"/>
<rect x="256" y="-35.5" width="160" height="71.0" fill="url(#gTubeU)"/>
<ellipse cx="410" cy="0" rx="16" ry="37.0" fill="url(#gRingDark)"/>
<rect x="410" y="-37.0" width="7" height="74.0" fill="url(#gRingDark)"/>
<ellipse cx="417" cy="0" rx="16" ry="37.0" fill="url(#gCres)"/>
<ellipse cx="421.5" cy="0.5" rx="15" ry="35.5" fill="url(#gTubeU)"/>
<rect x="421.5" y="-35.5" width="160" height="71.0" fill="url(#gTubeU)"/>
</g>
<path d="M456,400 L456,388 Q456,376 468,376.5 L875,530 Q891.6,536 891.6,520 L891.6,466 Q891.6,456 901,456 L910,456" fill="none" stroke="#8a8a8a" stroke-width="7.50" stroke-linecap="butt" stroke-linejoin="round" transform="translate(-0.00,-0.00)"/>
<path d="M456,400 L456,388 Q456,376 468,376.5 L875,530 Q891.6,536 891.6,520 L891.6,466 Q891.6,456 901,456 L910,456" fill="none" stroke="#969696" stroke-width="6.33" stroke-linecap="butt" stroke-linejoin="round" transform="translate(-0.24,-0.33)"/>
<path d="M456,400 L456,388 Q456,376 468,376.5 L875,530 Q891.6,536 891.6,520 L891.6,466 Q891.6,456 901,456 L910,456" fill="none" stroke="#a2a2a2" stroke-width="5.16" stroke-linecap="butt" stroke-linejoin="round" transform="translate(-0.48,-0.66)"/>
<path d="M456,400 L456,388 Q456,376 468,376.5 L875,530 Q891.6,536 891.6,520 L891.6,466 Q891.6,456 901,456 L910,456" fill="none" stroke="#aeaeae" stroke-width="3.99" stroke-linecap="butt" stroke-linejoin="round" transform="translate(-0.72,-0.99)"/>
<path d="M456,400 L456,388 Q456,376 468,376.5 L875,530 Q891.6,536 891.6,520 L891.6,466 Q891.6,456 901,456 L910,456" fill="none" stroke="#bababa" stroke-width="2.82" stroke-linecap="butt" stroke-linejoin="round" transform="translate(-0.96,-1.32)"/>
<path d="M456,400 L456,388 Q456,376 468,376.5 L875,530 Q891.6,536 891.6,520 L891.6,466 Q891.6,456 901,456 L910,456" fill="none" stroke="#c6c6c6" stroke-width="1.65" stroke-linecap="butt" stroke-linejoin="round" transform="translate(-1.20,-1.65)"/>
<path d="M937.4,440 L937.4,384 Q937.4,372.5 949,374 L1120,442.4" fill="none" stroke="#8a8a8a" stroke-width="15.00" stroke-linecap="butt" stroke-linejoin="round" transform="translate(-0.00,-0.00)"/>
<path d="M937.4,440 L937.4,384 Q937.4,372.5 949,374 L1120,442.4" fill="none" stroke="#969696" stroke-width="12.66" stroke-linecap="butt" stroke-linejoin="round" transform="translate(-0.48,-0.66)"/>
<path d="M937.4,440 L937.4,384 Q937.4,372.5 949,374 L1120,442.4" fill="none" stroke="#a2a2a2" stroke-width="10.32" stroke-linecap="butt" stroke-linejoin="round" transform="translate(-0.96,-1.32)"/>
<path d="M937.4,440 L937.4,384 Q937.4,372.5 949,374 L1120,442.4" fill="none" stroke="#aeaeae" stroke-width="7.98" stroke-linecap="butt" stroke-linejoin="round" transform="translate(-1.44,-1.98)"/>
<path d="M937.4,440 L937.4,384 Q937.4,372.5 949,374 L1120,442.4" fill="none" stroke="#bababa" stroke-width="5.64" stroke-linecap="butt" stroke-linejoin="round" transform="translate(-1.92,-2.64)"/>
<path d="M937.4,440 L937.4,384 Q937.4,372.5 949,374 L1120,442.4" fill="none" stroke="#c6c6c6" stroke-width="3.30" stroke-linecap="butt" stroke-linejoin="round" transform="translate(-2.40,-3.30)"/>
<polygon points="894.8,568.6 924.4,556.2 980.6,567.7 937.7,585.8" fill="#b6b6b6"/>
<polygon points="900,568.5 925,558.5 973,568 937.5,583" fill="#c6c6c6"/>
<polyline points="900,568.5 925,558.5 973,568" fill="none" stroke="#a4a4a4" stroke-width="1"/>
<polygon points="894.8,568.6 937.7,585.8 895.7,669.8" fill="url(#gBoxF)"/>
<polygon points="937.7,585.8 980.6,567.7 931,654.5 895.7,669.8" fill="url(#gBoxR)"/>
<polygon points="937.7,585.8 941.5,584.2 900,668 895.7,669.8" fill="#b2b2b2"/>
<line x1="894.8" y1="568.6" x2="937.7" y2="585.8" stroke="#d0d0d0" stroke-width="0.8"/>
<path d="M924.4,559 L924.4,568 Q925,573.4 938.7,573.4 Q952.4,573.4 953,568 L953,559 Z" fill="url(#gCollarV)"/>
<ellipse cx="938.7" cy="558.5" rx="14.3" ry="5" fill="#b4b4b4"/>
<path d="M1136.4,490 L1136.4,499 L962,631 Q950,641 936,642 L927.5,641" fill="none" stroke="#8a8a8a" stroke-width="8.20" stroke-linecap="butt" stroke-linejoin="round" transform="translate(-0.00,-0.00)"/>
<path d="M1136.4,490 L1136.4,499 L962,631 Q950,641 936,642 L927.5,641" fill="none" stroke="#969696" stroke-width="6.92" stroke-linecap="butt" stroke-linejoin="round" transform="translate(-0.26,-0.36)"/>
<path d="M1136.4,490 L1136.4,499 L962,631 Q950,641 936,642 L927.5,641" fill="none" stroke="#a2a2a2" stroke-width="5.64" stroke-linecap="butt" stroke-linejoin="round" transform="translate(-0.52,-0.72)"/>
<path d="M1136.4,490 L1136.4,499 L962,631 Q950,641 936,642 L927.5,641" fill="none" stroke="#aeaeae" stroke-width="4.36" stroke-linecap="butt" stroke-linejoin="round" transform="translate(-0.79,-1.08)"/>
<path d="M1136.4,490 L1136.4,499 L962,631 Q950,641 936,642 L927.5,641" fill="none" stroke="#bababa" stroke-width="3.08" stroke-linecap="butt" stroke-linejoin="round" transform="translate(-1.05,-1.44)"/>
<path d="M1136.4,490 L1136.4,499 L962,631 Q950,641 936,642 L927.5,641" fill="none" stroke="#c6c6c6" stroke-width="1.80" stroke-linecap="butt" stroke-linejoin="round" transform="translate(-1.31,-1.80)"/>
<ellipse cx="927.5" cy="641" rx="1.8" ry="4" fill="#d4d4d4"/>
<rect x="931" y="488" width="15.5" height="70" fill="url(#gPipeV2)"/>
<path d="M904.4,452 L904.4,479 C905,484 906,486 908.7,487.7 C918,493 930,494.2 940,494.2 C952,494.2 960,492.5 965.5,489.9 C969,487.5 971,484.5 971.5,481 L972.6,470 L972.6,452 Z" fill="url(#gChLow)"/>
<path d="M905,481 Q938.6,493 971.5,481" fill="none" stroke="#a4a4a4" stroke-width="0.8"/>
<path d="M905.4,455 Q940,460 961,456 L961,475.7 Q940,481 905.4,469 Z" fill="url(#gWinBack)"/>
<path d="M905.4,467 Q912,464 928,465 Q950,466 961,470 L961,475.7 Q940,481 905.4,469 Z" fill="url(#gWinFloor)"/>
<path d="M912,474 Q925,466 945,467 Q958,469 961,472 L961,475.7 Q940,481 912,474 Z" fill="#000" fill-opacity="0"/>
<path d="M914.7,461.5 L918.5,459.8 L920.5,465 L916.5,466.3 Z" fill="#a8b0bc"/>
<path d="M918,460.5 Q926,458.5 934,463.5 Q942,468.5 945.5,473 Q943,475.3 937,474 Q928,471 921,466.5 Q918,464 918,460.5 Z" fill="#c03808"/>
<path d="M920.5,461.8 Q926.5,461 932,465 Q936.5,468.5 935.5,470 Q929.5,469.5 923.5,466 Q920.5,464 920.5,461.8 Z" fill="#fcc040"/>
<path d="M960.6,456 L964.4,455.5 L964.4,475 L960.6,476 Z" fill="#c4c4c8"/>
<path d="M964.4,455.5 L972.6,454 L972.6,471 L964.4,475 Z" fill="#b0b0b0"/>
<path d="M904.6,468.5 Q940,482 964.4,475.5" fill="none" stroke="#d0d4e0" stroke-width="1.4"/>
<path d="M904.4,448 C904.4,444 907,441.5 910.4,439.6 C915,433 921,429.5 927.3,428.2 Q943,425 961.1,430.9 C966,433.5 968.5,437 969.9,440.7 C972,442.5 972.6,445 972.6,448 L972.6,454 Q966,454.5 961,456 Q940,460.5 907.6,454.9 Q904.4,452 904.4,448 Z" fill="url(#gChTop)"/>
<ellipse cx="940" cy="437" rx="25.5" ry="10" fill="url(#gChTopFace)" stroke="#b0b0b0" stroke-width="0.8"/>
<path d="M906,449 Q938,462 971,449" fill="none" stroke="#d6d6d6" stroke-width="2.2" filter="url(#blur1)"/>
<path d="M930.6,395 L930.6,436.5 L944.7,440 L944.7,395 Z" fill="url(#gPipeV2)"/>
<rect x="1069.6" y="280" width="12.4" height="65" fill="url(#gPipeV)"/>
<rect x="1069.5" y="400" width="12.4" height="22" fill="url(#gPipeV)"/>
<rect x="1131" y="360" width="12.2" height="66" fill="url(#gPipeV)"/>
<rect x="1133" y="488" width="6.5" height="12" fill="url(#gPipeV)"/>
<path d="M1079,303.6 L1117.3,318.9" fill="none" stroke="#8a8a8a" stroke-width="6.00" stroke-linecap="butt" stroke-linejoin="round" transform="translate(-0.00,-0.00)"/>
<path d="M1079,303.6 L1117.3,318.9" fill="none" stroke="#969696" stroke-width="5.06" stroke-linecap="butt" stroke-linejoin="round" transform="translate(-0.19,-0.26)"/>
<path d="M1079,303.6 L1117.3,318.9" fill="none" stroke="#a2a2a2" stroke-width="4.13" stroke-linecap="butt" stroke-linejoin="round" transform="translate(-0.38,-0.53)"/>
<path d="M1079,303.6 L1117.3,318.9" fill="none" stroke="#aeaeae" stroke-width="3.19" stroke-linecap="butt" stroke-linejoin="round" transform="translate(-0.58,-0.79)"/>
<path d="M1079,303.6 L1117.3,318.9" fill="none" stroke="#bababa" stroke-width="2.26" stroke-linecap="butt" stroke-linejoin="round" transform="translate(-0.77,-1.06)"/>
<path d="M1079,303.6 L1117.3,318.9" fill="none" stroke="#c6c6c6" stroke-width="1.32" stroke-linecap="butt" stroke-linejoin="round" transform="translate(-0.96,-1.32)"/>
<path d="M1089,365.4 L1129.7,380.2" fill="none" stroke="#8a8a8a" stroke-width="6.00" stroke-linecap="butt" stroke-linejoin="round" transform="translate(-0.00,-0.00)"/>
<path d="M1089,365.4 L1129.7,380.2" fill="none" stroke="#969696" stroke-width="5.06" stroke-linecap="butt" stroke-linejoin="round" transform="translate(-0.19,-0.26)"/>
<path d="M1089,365.4 L1129.7,380.2" fill="none" stroke="#a2a2a2" stroke-width="4.13" stroke-linecap="butt" stroke-linejoin="round" transform="translate(-0.38,-0.53)"/>
<path d="M1089,365.4 L1129.7,380.2" fill="none" stroke="#aeaeae" stroke-width="3.19" stroke-linecap="butt" stroke-linejoin="round" transform="translate(-0.58,-0.79)"/>
<path d="M1089,365.4 L1129.7,380.2" fill="none" stroke="#bababa" stroke-width="2.26" stroke-linecap="butt" stroke-linejoin="round" transform="translate(-0.77,-1.06)"/>
<path d="M1089,365.4 L1129.7,380.2" fill="none" stroke="#c6c6c6" stroke-width="1.32" stroke-linecap="butt" stroke-linejoin="round" transform="translate(-0.96,-1.32)"/>
<path d="M1088.7,244 L1125,256 Q1135.5,260 1135.5,272 L1135.5,304" fill="none" stroke="#8a8a8a" stroke-width="7.00" stroke-linecap="butt" stroke-linejoin="round" transform="translate(-0.00,-0.00)"/>
<path d="M1088.7,244 L1125,256 Q1135.5,260 1135.5,272 L1135.5,304" fill="none" stroke="#969696" stroke-width="5.91" stroke-linecap="butt" stroke-linejoin="round" transform="translate(-0.22,-0.31)"/>
<path d="M1088.7,244 L1125,256 Q1135.5,260 1135.5,272 L1135.5,304" fill="none" stroke="#a2a2a2" stroke-width="4.82" stroke-linecap="butt" stroke-linejoin="round" transform="translate(-0.45,-0.62)"/>
<path d="M1088.7,244 L1125,256 Q1135.5,260 1135.5,272 L1135.5,304" fill="none" stroke="#aeaeae" stroke-width="3.72" stroke-linecap="butt" stroke-linejoin="round" transform="translate(-0.67,-0.92)"/>
<path d="M1088.7,244 L1125,256 Q1135.5,260 1135.5,272 L1135.5,304" fill="none" stroke="#bababa" stroke-width="2.63" stroke-linecap="butt" stroke-linejoin="round" transform="translate(-0.90,-1.23)"/>
<path d="M1088.7,244 L1125,256 Q1135.5,260 1135.5,272 L1135.5,304" fill="none" stroke="#c6c6c6" stroke-width="1.54" stroke-linecap="butt" stroke-linejoin="round" transform="translate(-1.12,-1.54)"/>
<path d="M1056.2,265.4 L1068.6,284.5 Q1075.3000000000002,286.5 1083,284.5 L1094.4,265.4 Z" fill="url(#gCone)"/>
<path d="M1056.2,265.4 Q1075.3000000000002,271.4 1094.4,265.4 L1093.4,267.4 Q1075.3000000000002,273.4 1057.2,267.4 Z" fill="#000" fill-opacity="0.07"/>
<path d="M1056.2,230.2 L1056.2,265.4 Q1075.3000000000002,271.4 1094.4,265.4 L1094.4,230.2 Z" fill="url(#gCyc)"/>
<ellipse cx="1075.3000000000002" cy="229.7" rx="19.100000000000023" ry="9" fill="url(#gCham)"/>
<ellipse cx="1075.3000000000002" cy="226.7" rx="16.6" ry="7.5" fill="url(#gCycTop)"/>
<path d="M1117.3,348.2 L1130.9,364.2 Q1136.4,366.2 1143.2,364.2 L1155.5,348.2 Z" fill="url(#gCone)"/>
<path d="M1117.3,348.2 Q1136.4,354.2 1155.5,348.2 L1154.5,350.2 Q1136.4,356.2 1118.3,350.2 Z" fill="#000" fill-opacity="0.07"/>
<path d="M1117.3,310.8 L1117.3,348.2 Q1136.4,354.2 1155.5,348.2 L1155.5,310.8 Z" fill="url(#gCyc)"/>
<ellipse cx="1136.4" cy="310.3" rx="19.100000000000023" ry="9" fill="url(#gCham)"/>
<ellipse cx="1136.4" cy="307.3" rx="16.6" ry="7.5" fill="url(#gCycTop)"/>
<path d="M1056,386.3 L1069.5,403.5 Q1075.0,405.5 1081.8,403.5 L1094,386.3 Z" fill="url(#gCone)"/>
<path d="M1056,386.3 Q1075.0,392.3 1094,386.3 L1093,388.3 Q1075.0,394.3 1057,388.3 Z" fill="#000" fill-opacity="0.07"/>
<path d="M1056,350.6 L1056,386.3 Q1075.0,392.3 1094,386.3 L1094,350.6 Z" fill="url(#gCyc)"/>
<ellipse cx="1075.0" cy="350.1" rx="19.0" ry="9" fill="url(#gCham)"/>
<ellipse cx="1075.0" cy="347.1" rx="16.5" ry="7.5" fill="url(#gCycTop)"/>
<path d="M1117.4,465 L1132,489.5 Q1136.4,491.5 1140.7,489.5 L1155.4,465 Z" fill="url(#gCone)"/>
<path d="M1117.4,465 Q1136.4,471 1155.4,465 L1154.4,467 Q1136.4,473 1118.4,467 Z" fill="#000" fill-opacity="0.07"/>
<path d="M1117.4,430.5 L1117.4,465 Q1136.4,471 1155.4,465 L1155.4,430.5 Z" fill="url(#gCyc)"/>
<ellipse cx="1136.4" cy="430.0" rx="19.0" ry="9" fill="url(#gCham)"/>
<ellipse cx="1136.4" cy="427.0" rx="16.5" ry="7.5" fill="url(#gCycTop)"/>
<line x1="869.5" y1="625.3" x2="791.0" y2="593.0" stroke="#ff0000" stroke-width="3.1"/>
<polygon points="787.5,591.2 794.6,587.2 794.6,602.2" fill="#ff0000"/>
<line x1="789.3" y1="571.6" x2="864.1" y2="603.0" stroke="#1498da" stroke-width="2.7"/>
<polygon points="867.8,604.9 860.7,593.4 860.2,608.9" fill="#1498da"/>
<line x1="959.2" y1="542.3" x2="959.7" y2="511.0" stroke="#1498da" stroke-width="2.8"/>
<polygon points="960.5,506.1 951.1,518.4 966.8,513.5" fill="#1498da"/>
<line x1="1118.4" y1="538.9" x2="1051.2" y2="590.5" stroke="#ff0000" stroke-width="3.3"/>
<polygon points="1047.6,592.7 1048.2,584.5 1061.3,592.1" fill="#ff0000"/>
<line x1="1199.8" y1="186.6" x2="1132.4" y2="238.4" stroke="#ff0000" stroke-width="3.3"/>
<polygon points="1128.8,240.6 1129.4,232.4 1142.5,240" fill="#ff0000"/>
<line x1="955.2" y1="387.4" x2="1030.0" y2="418.8" stroke="#1498da" stroke-width="2.7"/>
<polygon points="1033.7,420.5 1026.2,409.6 1026.2,424.6" fill="#1498da"/>
<line x1="1156" y1="296.9" x2="1156.2" y2="267.4" stroke="#1498da" stroke-width="2.8"/>
<polygon points="1157,262.5 1147.6,274.8 1163.3,269.9" fill="#1498da"/>
<line x1="1156" y1="410.9" x2="1156.2" y2="378.9" stroke="#1498da" stroke-width="2.8"/>
<polygon points="1157,374 1147.6,386.3 1163.3,381.4" fill="#1498da"/>
<line x1="1070.2" y1="239.6" x2="1069.9" y2="263.8" stroke="#ff0000" stroke-width="3"/>
<polygon points="1070.2,268.3 1062.0,256.8 1077.2,261.6" fill="#ff0000"/>
<line x1="1132" y1="318.9" x2="1131.7" y2="342.9" stroke="#ff0000" stroke-width="3"/>
<polygon points="1132,347.5 1123.8,336.0 1139,340.8" fill="#ff0000"/>
<line x1="1070" y1="358" x2="1069.7" y2="382.9" stroke="#ff0000" stroke-width="3"/>
<polygon points="1070,387.5 1061.8,376.0 1077,380.8" fill="#ff0000"/>
<rect x="1068" y="0" width="3" height="1.3" fill="#ff0000"/>
<rect x="1278.5" y="122" width="1.5" height="3" fill="#ff0000"/>
<rect x="1278.5" y="410" width="1.5" height="3" fill="#ff0000"/>
<rect x="957.5" y="731.5" width="2" height="1.5" fill="#1498da"/>
</svg>
</body></html>
